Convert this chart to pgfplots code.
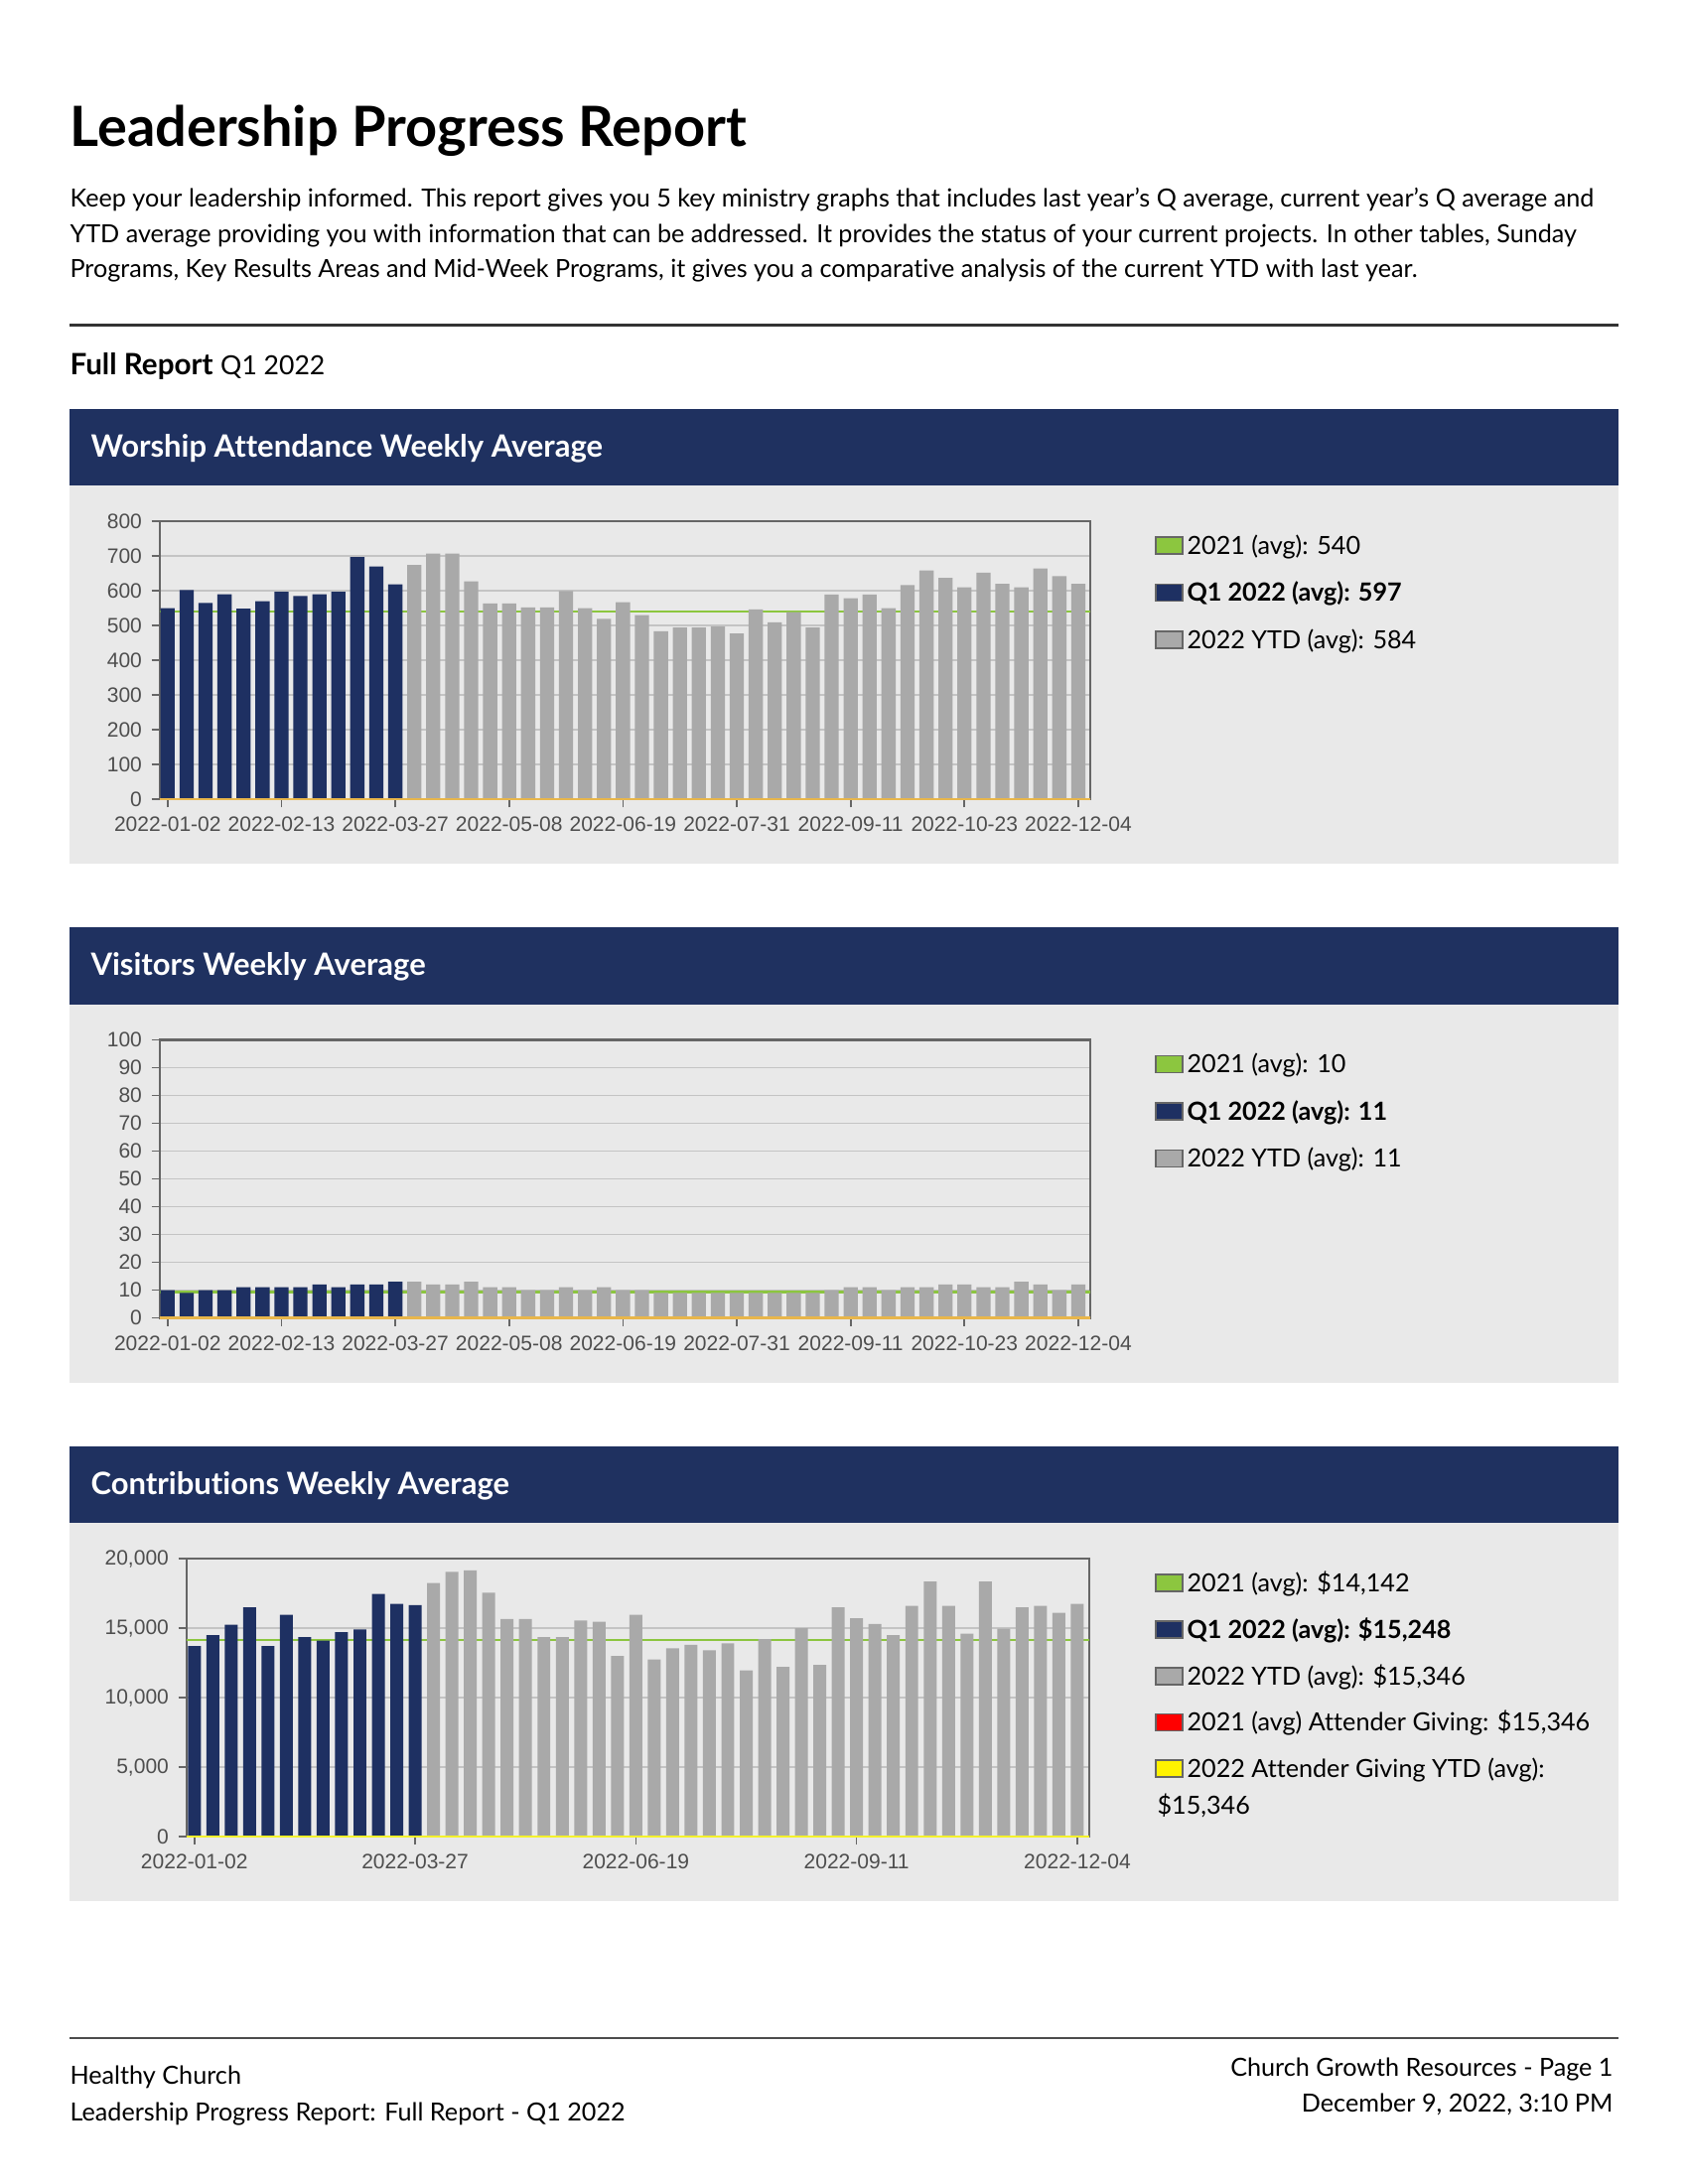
\documentclass[border=0pt]{standalone}
\usepackage{fontspec}
\setmainfont{Lato}[Ligatures=NoCommon]
\newfontfamily\chartfont{Liberation Sans}
\usepackage{pgfplots}
\pgfplotsset{compat=1.18}

\definecolor{hdrnavy}{HTML}{1F3160}
\definecolor{barnavy}{HTML}{1E3062}
\definecolor{bargray}{HTML}{A9A9A9}
\definecolor{panelgray}{HTML}{E9E9E9}
\definecolor{avggreen}{HTML}{8CC63F}
\definecolor{zeroorange}{HTML}{E8B64B}
\definecolor{zeroyellow}{HTML}{F4F22C}
\definecolor{gridgray}{HTML}{C4C4C4}
\definecolor{axisgray}{HTML}{666666}
\definecolor{ticktext}{HTML}{4E4E4E}

\pgfplotsset{
  weekly/.style={
    scale only axis, anchor=north west,
    axis line style={axisgray, line width=0.8pt},
    ymajorgrids, grid style={gridgray, line width=0.5pt},
    tick align=outside, xtick pos=bottom, ytick pos=left,
    major tick length=3pt,
    every tick/.style={axisgray, line width=0.6pt},
    ticklabel style={font=\chartfont\fontsize{7.6}{9}\selectfont, text=ticktext},
    /pgf/number format/assume math mode=true,
    /pgf/number format/1000 sep={,},
    scaled y ticks=false,
    clip=false, ymin=0,
  },
  navybars/.style={ybar, fill=barnavy, draw=none},
  graybars/.style={ybar, fill=bargray, draw=none},
}

% legend entry: square and text at baseline #2
\newcommand{\legentry}[4]{%
  \fill[#1] (1164,#2-17) rectangle (1191,#2);
  \draw[black!60, line width=0.6pt] (1164,#2-17) rectangle (1191,#2);
  \node[anchor=base west, inner sep=0pt, font=\fontsize{9.1}{10}\selectfont#4] at (1195,#2) {#3};}

\begin{document}
\begin{tikzpicture}
\begin{scope}[x=0.36bp, y=-0.36bp]
  \fill[white] (0,0) rectangle (1700,2200);
  \path[use as bounding box] (0,0) rectangle (1700,2200);

  \node[anchor=base west, inner sep=0pt, font=\fontsize{20.2}{22}\selectfont\bfseries] at (70,147) {Leadership Progress Report};
  \begin{scope}[every node/.style={anchor=base west, inner sep=0pt, font=\fontsize{9.1}{11}\selectfont}]
    \node at (70,208) {Keep your leadership informed. This report gives you 5 key ministry graphs that includes last year’s Q average, current year’s Q average and};
    \node at (70,244) {YTD average providing you with information that can be addressed. It provides the status of your current projects. In other tables, Sunday};
    \node at (70,279.5) {Programs, Key Results Areas and Mid-Week Programs, it gives you a comparative analysis of the current YTD with last year.};
  \end{scope}
  \fill[black!80] (70,325.5) rectangle (1630,328.5);
  \node[anchor=base west, inner sep=0pt, font=\fontsize{10.7}{12}\selectfont] at (70,377) {\textbf{Full Report} {\fontsize{9.6}{11}\selectfont Q1 2022}};

  % panels
  \foreach \off/\ttl in {0/Worship Attendance Weekly Average, 522.5/Visitors Weekly Average, 1045/Contributions Weekly Average} {
    \fill[hdrnavy] (70,411.7+\off) rectangle (1630,489+\off);
    \fill[panelgray] (70,489+\off) rectangle (1630,870+\off);
    \node[anchor=base west, inner sep=0pt, text=white, font=\fontsize{11.2}{13}\selectfont\bfseries] at (91,460+\off) {\ttl};
  }

  % legends
  \legentry{avggreen}{558}{2021 (avg): 540}{}
  \legentry{barnavy}{605.5}{Q1 2022 (avg): 597}{\bfseries}
  \legentry{bargray}{653}{2022 YTD (avg): 584}{}

  \legentry{avggreen}{1080.5}{2021 (avg): 10}{}
  \legentry{barnavy}{1128}{Q1 2022 (avg): 11}{\bfseries}
  \legentry{bargray}{1175.5}{2022 YTD (avg): 11}{}

  \legentry{avggreen}{1603}{2021 (avg): \$14,142}{}
  \legentry{barnavy}{1650}{Q1 2022 (avg): \$15,248}{\bfseries}
  \legentry{bargray}{1697}{2022 YTD (avg): \$15,346}{}
  \legentry{red}{1743.5}{2021 (avg) Attender Giving: \$15,346}{}
  \legentry{yellow}{1790}{2022 Attender Giving YTD (avg):}{}
  \node[anchor=base west, inner sep=0pt, font=\fontsize{9.1}{10}\selectfont] at (1165,1827) {\$15,346};

  % footer
  \fill[black!70] (70,2052.3) rectangle (1630,2053.8);
  \begin{scope}[every node/.style={inner sep=0pt, font=\fontsize{9.1}{10}\selectfont}]
    \node[anchor=base west] at (70,2099) {Healthy Church};
    \node[anchor=base west] at (70,2136) {Leadership Progress Report: Full Report - Q1 2022};
    \node[anchor=base east] at (1625,2091) {Church Growth Resources - Page 1};
    \node[anchor=base east] at (1625,2127) {December 9, 2022, 3:10 PM};
  \end{scope}
\end{scope}

% Worship attendance
\begin{axis}[weekly,
  at={(161*0.36bp,-525*0.36bp)}, width=937*0.36bp, height=280*0.36bp,
  xmin=-0.41, xmax=48.63, ymax=800, ytick={0,100,...,800},
  xtick={0,6,...,48},
  xticklabels={2022-01-02,2022-02-13,2022-03-27,2022-05-08,2022-06-19,2022-07-31,2022-09-11,2022-10-23,2022-12-04}]
  \addplot[avggreen, line width=0.8pt] coordinates {(-0.41,540) (48.63,540)};
  \addplot[navybars, bar width=0.75] coordinates {
    (0,550) (1,602) (2,565) (3,590) (4,548) (5,570) (6,597) (7,585) (8,590) (9,597) (10,697) (11,670) (12,618)};
  \addplot[graybars, bar width=0.75] coordinates {
    (13,674) (14,707) (15,707) (16,627) (17,563) (18,563) (19,552) (20,552) (21,599) (22,550) (23,519) (24,567)
    (25,530) (26,483) (27,494) (28,494) (29,497) (30,477) (31,546) (32,509) (33,538) (34,494) (35,589) (36,578)
    (37,589) (38,550) (39,616) (40,658) (41,637) (42,610) (43,652) (44,620) (45,610) (46,664) (47,642) (48,620)};
  \addplot[zeroorange, line width=0.9pt] coordinates {(-0.41,0) (48.63,0)};
\end{axis}

% Visitors
\begin{axis}[weekly,
  at={(161*0.36bp,-1047.5*0.36bp)}, width=937*0.36bp, height=280*0.36bp,
  xmin=-0.41, xmax=48.63, ymax=100, ytick={0,10,...,100},
  xtick={0,6,...,48},
  xticklabels={2022-01-02,2022-02-13,2022-03-27,2022-05-08,2022-06-19,2022-07-31,2022-09-11,2022-10-23,2022-12-04}]
  \addplot[avggreen, line width=0.8pt] coordinates {(-0.41,9.3) (48.63,9.3)};
  \addplot[navybars, bar width=0.75] coordinates {
    (0,10) (1,9) (2,10) (3,10) (4,11) (5,11) (6,11) (7,11) (8,12) (9,11) (10,12) (11,12) (12,13)};
  \addplot[graybars, bar width=0.75] coordinates {
    (13,13) (14,12) (15,12) (16,13) (17,11) (18,11) (19,10) (20,10) (21,11) (22,10) (23,11) (24,10)
    (25,10) (26,9) (27,9) (28,9) (29,9) (30,9) (31,9) (32,9) (33,9) (34,9) (35,10) (36,11)
    (37,11) (38,10) (39,11) (40,11) (41,12) (42,12) (43,11) (44,11) (45,13) (46,12) (47,10) (48,12)};
  \addplot[zeroorange, line width=0.9pt] coordinates {(-0.41,0) (48.63,0)};
\end{axis}

% Contributions
\begin{axis}[weekly,
  at={(188*0.36bp,-1570*0.36bp)}, width=909*0.36bp, height=280*0.36bp,
  xmin=-0.42, xmax=48.65, ymax=20000, ytick={0,5000,...,20000},
  xtick={0,12,...,48},
  xticklabels={2022-01-02,2022-03-27,2022-06-19,2022-09-11,2022-12-04}]
  \addplot[avggreen, line width=0.8pt] coordinates {(-0.42,14142) (48.65,14142)};
  \addplot[navybars, bar width=0.70] coordinates {
    (0,13700) (1,14500) (2,15250) (3,16500) (4,13700) (5,15950) (6,14350) (7,14100) (8,14700) (9,14900)
    (10,17450) (11,16750) (12,16650)};
  \addplot[graybars, bar width=0.70] coordinates {
    (13,18250) (14,19050) (15,19150) (16,17550) (17,15650) (18,15650) (19,14350) (20,14350) (21,15550)
    (22,15450) (23,13000) (24,15950) (25,12750) (26,13550) (27,13800) (28,13400) (29,13900) (30,11950)
    (31,14200) (32,12200) (33,15000) (34,12350) (35,16500) (36,15700) (37,15300) (38,14500) (39,16600)
    (40,18350) (41,16600) (42,14600) (43,18350) (44,14950) (45,16500) (46,16600) (47,16100) (48,16750)};
  \addplot[zeroyellow, line width=0.9pt] coordinates {(-0.42,0) (48.65,0)};
\end{axis}
\end{tikzpicture}
\end{document}
